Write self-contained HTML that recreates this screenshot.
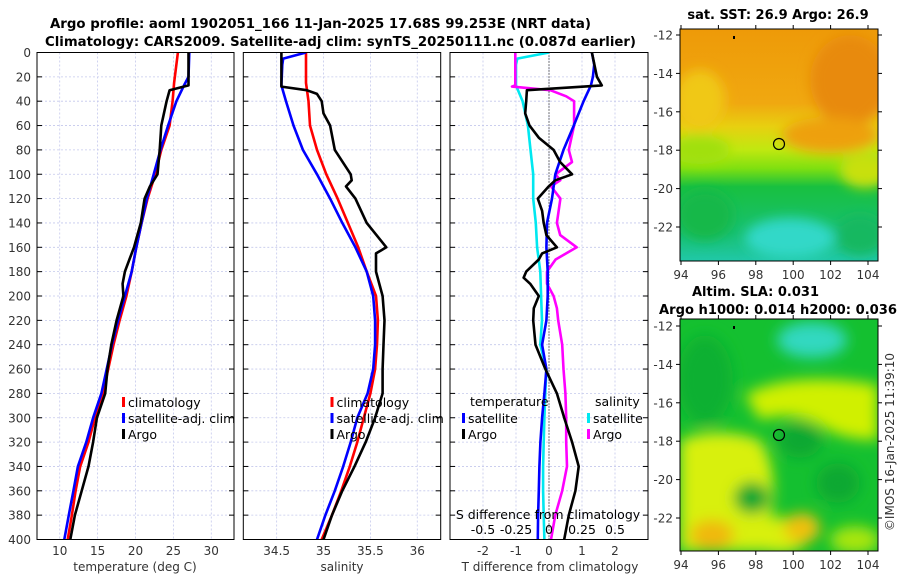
<!DOCTYPE html>
<html><head><meta charset="utf-8">
<style>
html,body{margin:0;padding:0;background:#fff;}
svg{display:block;font-family:"DejaVu Sans","Liberation Sans",sans-serif;}
.tk{font-size:12px;fill:#333;}
.ttl{font-size:13px;font-weight:bold;fill:#000;}
.lg{font-size:12.5px;fill:#000;}
</style></head>
<body>
<svg id="fig" width="900" height="580" viewBox="0 0 900 580" xmlns="http://www.w3.org/2000/svg">
<defs>
<filter id="blur1" x="-20%" y="-20%" width="140%" height="140%"><feGaussianBlur stdDeviation="6"/></filter>
<filter id="blur2" x="-20%" y="-20%" width="140%" height="140%"><feGaussianBlur stdDeviation="7"/></filter>
<clipPath id="cp1"><rect x="37" y="52.5" width="197" height="487"/></clipPath>
<clipPath id="cp2"><rect x="243.3" y="52.5" width="197.4" height="487"/></clipPath>
<clipPath id="cp3"><rect x="450" y="52.5" width="198" height="487"/></clipPath>
<clipPath id="cm1"><rect x="680" y="29" width="198" height="232"/></clipPath>
<clipPath id="cm2"><rect x="680" y="319" width="198" height="232"/></clipPath>
<linearGradient id="g1" x1="0" y1="0" x2="0" y2="1">
<stop offset="0" stop-color="#ee9a08"/><stop offset="0.32" stop-color="#f0a810"/>
<stop offset="0.42" stop-color="#e8d010"/><stop offset="0.52" stop-color="#c0e810"/>
<stop offset="0.6" stop-color="#80e010"/><stop offset="0.68" stop-color="#18c040"/><stop offset="0.88" stop-color="#18c070"/><stop offset="1" stop-color="#20c8a8"/>
</linearGradient>
</defs>
<text class="ttl" x="50" y="28" textLength="541" lengthAdjust="spacingAndGlyphs">Argo profile: aoml 1902051_166 11-Jan-2025 17.68S 99.253E (NRT data)</text>
<text class="ttl" x="45" y="46" textLength="591" lengthAdjust="spacingAndGlyphs">Climatology: CARS2009. Satellite-adj clim: synTS_20250111.nc (0.087d earlier)</text>
<g id="p1"></g>
<g id="p2"></g>
<g id="p3"></g>
<g id="m1">
 <g clip-path="url(#cm1)">
  <rect x="680" y="29" width="198" height="232" fill="url(#g1)"/>
  <g filter="url(#blur1)">
   <ellipse cx="700" cy="100" rx="25" ry="30" fill="#f0c818"/>
   <ellipse cx="850" cy="80" rx="40" ry="45" fill="#e88a08"/>
   <ellipse cx="830" cy="135" rx="48" ry="18" fill="#eea010"/>
   <ellipse cx="700" cy="150" rx="30" ry="14" fill="#a0e010"/>
   <ellipse cx="865" cy="170" rx="25" ry="18" fill="#c8e010"/>
   <ellipse cx="705" cy="215" rx="28" ry="25" fill="#14b848"/>
   <ellipse cx="790" cy="238" rx="45" ry="20" fill="#30d8c8"/>
   <ellipse cx="860" cy="235" rx="25" ry="20" fill="#18b860"/>
  </g>
 </g>
 <rect x="680" y="29" width="198" height="232" fill="none" stroke="#000" stroke-width="1"/>
 <circle cx="779" cy="144" r="5.5" fill="none" stroke="#000" stroke-width="1.2"/>
 <rect x="733" y="36" width="2" height="3" fill="#000"/>
 <text class="ttl" x="778" y="19" text-anchor="middle">sat. SST: 26.9 Argo: 26.9</text>
</g>
<g id="m2">
 <g clip-path="url(#cm2)">
  <rect x="680" y="319" width="198" height="232" fill="#14c030"/>
  <g filter="url(#blur2)">
   <ellipse cx="705" cy="380" rx="28" ry="45" fill="#08b030"/>
   <ellipse cx="812" cy="340" rx="35" ry="18" fill="#30d8c0"/>
   <path d="M745,395 Q790,370 878,385 L878,440 Q840,440 820,425 Q790,410 760,420 Z" fill="#d0f000"/>
   <path d="M680,440 Q720,425 760,440 Q780,470 770,520 L770,551 L680,551 Z" fill="#d8f010"/>
   <ellipse cx="780" cy="535" rx="30" ry="18" fill="#d8f010"/>
   <ellipse cx="712" cy="535" rx="22" ry="15" fill="#f0b810"/>
   <ellipse cx="802" cy="528" rx="18" ry="15" fill="#f0c010"/>
   <ellipse cx="752" cy="498" rx="18" ry="16" fill="#08a830"/>
   <ellipse cx="800" cy="440" rx="22" ry="18" fill="#08a830"/>
   <ellipse cx="838" cy="483" rx="22" ry="20" fill="#08a830"/>
   <ellipse cx="855" cy="540" rx="25" ry="14" fill="#a8e610"/>
  </g>
 </g>
 <rect x="680" y="319" width="198" height="232" fill="none" stroke="#000" stroke-width="1"/>
 <circle cx="779" cy="435" r="5.5" fill="none" stroke="#000" stroke-width="1.2"/>
 <rect x="733" y="326" width="2" height="3" fill="#000"/>
 <text class="ttl" x="692" y="296">Altim. SLA: 0.031</text>
 <text class="ttl" x="659" y="314" textLength="238" lengthAdjust="spacingAndGlyphs">Argo h1000: 0.014 h2000: 0.036</text>
</g>
<text class="tk" transform="translate(894,442) rotate(-90)" text-anchor="middle">©IMOS 16-Jan-2025 11:39:10</text>
</svg>
<script>
// ---- data (depth in dbar) ----
const yTicks = [0,20,40,60,80,100,120,140,160,180,200,220,240,260,280,300,320,340,360,380,400];
const tTicks = [10,15,20,25,30];
const sTicks = [34.5,35,35.5,36];
const dTicks = [-2,-1,0,1,2];
const dsTicks = [-0.5,-0.25,0,0.25,0.5];
const lonTicks = [94,96,98,100,102,104];
const latTicks = [-12,-14,-16,-18,-20,-22];

const climDepth = [0,25,40,60,80,100,120,140,160,180,200,220,240,260,280,300,320,340,360,380,400];
const climTemp  = [25.6,25.1,24.9,24.5,23.4,22.6,21.6,20.8,20.1,19.5,18.8,17.9,17.1,16.4,15.7,14.65,13.8,12.7,12.1,11.6,11.05];
const satTempDepth = [0,20,27,40,60,80,100,120,140,160,180,200,220,240,260,280,300,320,340,360,380,400];
const satTemp = [27.1,27.0,26.4,25.4,24.3,23.3,22.4,21.5,20.8,20.1,19.5,18.6,17.7,16.9,16.2,15.5,14.4,13.5,12.4,11.8,11.2,10.6];
const argoTempDepth = [0,27,31,40,60,80,100,110,120,140,160,170,180,190,200,220,240,260,280,300,320,340,360,380,400];
const argoTemp = [27.0,27.0,24.5,24.1,23.4,23.2,22.9,21.9,21.2,20.7,19.8,19.2,18.6,18.3,18.4,17.5,16.8,16.3,16.0,14.9,14.4,13.8,12.9,12.0,11.4];

const climSal = [34.813,34.813,34.84,34.856,34.93,35.03,35.15,35.26,35.37,35.46,35.56,35.58,35.57,35.55,35.5,35.43,35.36,35.28,35.19,35.09,34.98];
const satSalDepth = [0,5,10,27,40,60,80,100,120,140,160,180,200,220,240,260,280,300,320,340,360,380,400];
const satSal = [34.813,34.57,34.56,34.55,34.6,34.68,34.78,34.93,35.07,35.2,35.34,35.46,35.53,35.55,35.55,35.53,35.47,35.36,35.29,35.21,35.12,35.02,34.93];
const argoSalDepth = [0,28,31,34,40,50,60,80,100,105,110,120,140,160,165,180,200,220,240,260,280,300,320,340,360,380,400];
const argoSal = [34.55,34.55,34.82,34.93,34.98,35.0,35.07,35.12,35.29,35.3,35.24,35.34,35.46,35.67,35.56,35.56,35.63,35.65,35.64,35.63,35.63,35.55,35.45,35.33,35.2,35.09,35.0];

const dSatTDepth = [0,10,20,27,40,60,80,100,120,140,160,180,200,220,240,260,280,300,320,340,360,380,400];
const dSatT = [1.3,1.37,1.33,1.27,1.05,0.75,0.44,0.19,0.09,-0.06,-0.08,-0.04,-0.04,-0.08,-0.21,-0.08,-0.14,-0.21,-0.26,-0.29,-0.31,-0.33,-0.34];
const dArgoTDepth = [0,20,27,31,40,50,60,70,80,90,100,105,110,120,130,140,150,160,165,170,180,185,190,200,210,220,240,260,280,300,320,340,360,380,400];
const dArgoT = [1.3,1.45,1.6,-0.67,-0.69,-0.72,-0.59,-0.31,0.14,0.34,0.7,0.19,-0.01,-0.34,-0.21,-0.16,-0.08,0.24,-0.21,-0.31,-0.69,-0.77,-0.57,-0.31,-0.46,-0.48,-0.41,-0.11,0.24,0.46,0.7,0.9,0.8,0.6,0.46];
const dSatSDepth = [0,5,10,27,40,60,80,100,120,140,160,180,200,220,240,260,280,300,320,340,360,380,400];
const dSatS = [0,-0.24,-0.25,-0.25,-0.2,-0.16,-0.14,-0.12,-0.12,-0.1,-0.09,-0.066,-0.06,-0.053,-0.066,-0.02,-0.028,-0.035,-0.04,-0.045,-0.045,-0.04,-0.035];
const dArgoSDepth = [0,27,28,31,36,40,50,60,70,80,90,100,105,110,120,140,150,160,170,180,190,200,210,220,240,260,280,300,320,340,360,380,400];
const dArgoS = [-0.255,-0.255,-0.28,0.01,0.13,0.19,0.19,0.19,0.17,0.15,0.174,0.05,0.085,0.015,0.086,0.06,0.085,0.21,0.05,-0.015,-0.015,0.035,0.06,0.07,0.1,0.11,0.124,0.13,0.13,0.136,0.1,0.048,0.015];

// ---- scales ----
const Y0 = 52.5, YH = 487;
const yS = d => Y0 + d / 400 * YH;
const xT = t => 37 + (t - 7) / 26 * 197;
const xS = s => 243.3 + (s - 34.144) / 2.106 * 197.4;
const xD = v => 450 + (v + 3) / 6 * 198;
const xDS = v => xD(v * 4);
const NS = 'http://www.w3.org/2000/svg';
function mk(tag, attrs, parent) {
  const e = document.createElementNS(NS, tag);
  for (const k in attrs) e.setAttribute(k, attrs[k]);
  parent.appendChild(e);
  return e;
}
function txt(parent, x, y, s, anchor, cls) {
  const t = mk('text', {x: x, y: y, 'text-anchor': anchor || 'middle', class: cls || 'tk'}, parent);
  t.textContent = s;
  return t;
}

function panel(g, x0, x1, clip, xTicks, xf, xlabels) {
  xTicks.forEach(v => {
    const l = mk('line', {x1: xf(v), x2: xf(v), y1: Y0, y2: Y0 + YH, stroke: '#c4c8ec', 'stroke-width': 0.8, 'stroke-dasharray': '2,2'}, g);
    
    
  });
  yTicks.forEach(d => {
    const l = mk('line', {x1: x0, x2: x1, y1: yS(d), y2: yS(d), stroke: '#c4c8ec', 'stroke-width': 0.8, 'stroke-dasharray': '2,2'}, g);
    
    
    mk('line', {x1: x0, x2: x0 + 5, y1: yS(d), y2: yS(d), stroke: '#000', 'stroke-width': 1}, g);
    mk('line', {x1: x1 - 5, x2: x1, y1: yS(d), y2: yS(d), stroke: '#000', 'stroke-width': 1}, g);
  });
  if (xlabels) xTicks.forEach(v => {
    const t = txt(g, xf(v), 555, String(v));
    
    
  });
}
function series(g, clip, depths, vals, xf, color, name) {
  const pts = depths.map((d, i) => xf(vals[i]).toFixed(1) + ',' + yS(d).toFixed(1)).join(' ');
  const p = mk('polyline', {points: pts, fill: 'none', stroke: color, 'stroke-width': 2.6, 'stroke-linejoin': 'round', 'clip-path': clip}, g);
  
  
}
function legendEntry(g, x, y, color, label, name) {
  const e = mk('g', {}, g);
  
  
  mk('rect', {x: x, y: y - 9, width: 3, height: 10, fill: color}, e);
  txt(e, x + 6, y + 1, label, 'start', 'lg');
}
function frame(g, x0, x1) {
  mk('rect', {x: x0, y: Y0, width: x1 - x0, height: YH, fill: 'none', stroke: '#000', 'stroke-width': 1}, g);
}

// Panel 1
const p1 = document.getElementById('p1');
panel(p1, 37, 234, 'url(#cp1)', tTicks, xT, true);
yTicks.forEach(d => {
  const t = txt(p1, 31, yS(d) + 4.5, String(d), 'end');
  
  
});
series(p1, 'url(#cp1)', climDepth, climTemp, xT, '#ff0000', 'temp-climatology-line');
series(p1, 'url(#cp1)', satTempDepth, satTemp, xT, '#0000ff', 'temp-satellite-line');
series(p1, 'url(#cp1)', argoTempDepth, argoTemp, xT, '#000000', 'temp-argo-line');
const lg1 = mk('g', {'clip-path': 'url(#cp1)'}, p1);
legendEntry(lg1, 122, 406, '#ff0000', 'climatology', 'legend-climatology');
legendEntry(lg1, 122, 422, '#0000ff', 'satellite-adj. clim', 'legend-satellite-adj');
legendEntry(lg1, 122, 438, '#000000', 'Argo', 'legend-argo');
frame(p1, 37, 234);
const xl1 = txt(p1, 135, 571, 'temperature (deg C)');


// Panel 2
const p2 = document.getElementById('p2');
panel(p2, 243.3, 440.7, 'url(#cp2)', sTicks, xS, true);
series(p2, 'url(#cp2)', climDepth, climSal, xS, '#ff0000', 'sal-climatology-line');
series(p2, 'url(#cp2)', satSalDepth, satSal, xS, '#0000ff', 'sal-satellite-line');
series(p2, 'url(#cp2)', argoSalDepth, argoSal, xS, '#000000', 'sal-argo-line');
legendEntry(p2, 330.5, 406, '#ff0000', 'climatology', 'legend-climatology');
legendEntry(p2, 330.5, 422, '#0000ff', 'satellite-adj. clim', 'legend-satellite-adj');
legendEntry(p2, 330.5, 438, '#000000', 'Argo', 'legend-argo');
frame(p2, 243.3, 440.7);
const xl2 = txt(p2, 342, 571, 'salinity');


// Panel 3
const p3 = document.getElementById('p3');
panel(p3, 450, 648, 'url(#cp3)', dTicks, xD, true);
mk('line', {x1: xD(0), x2: xD(0), y1: Y0, y2: Y0 + YH, stroke: '#000', 'stroke-width': 1, 'stroke-dasharray': '1,2'}, p3);
series(p3, 'url(#cp3)', dSatSDepth, dSatS, xDS, '#00e8f0', 'sal-diff-satellite-line');
series(p3, 'url(#cp3)', dArgoSDepth, dArgoS, xDS, '#ff00ff', 'sal-diff-argo-line');
series(p3, 'url(#cp3)', dSatTDepth, dSatT, xD, '#0000ff', 'temp-diff-satellite-line');
series(p3, 'url(#cp3)', dArgoTDepth, dArgoT, xD, '#000000', 'temp-diff-argo-line');
txt(p3, 470, 406, 'temperature', 'start', 'lg');
legendEntry(p3, 462, 422, '#0000ff', 'satellite', 'legend-temp-satellite');
legendEntry(p3, 462, 438, '#000000', 'Argo', 'legend-temp-argo');
txt(p3, 595, 406, 'salinity', 'start', 'lg');
legendEntry(p3, 587, 422, '#00e8f0', 'satellite', 'legend-sal-satellite');
legendEntry(p3, 587, 438, '#ff00ff', 'Argo', 'legend-sal-argo');
const sl = txt(p3, 548, 519, 'S difference from climatology', 'middle', 'lg');

dsTicks.forEach(v => {
  const t = txt(p3, xDS(v), 534, String(v), 'middle', 'lg');
  
  
});
frame(p3, 450, 648);
const xl3 = txt(p3, 550, 571, 'T difference from climatology');


// Maps axes
const lonX = lon => 681 + (lon - 94) * 18.7;
function mapAxes(gid, top, latY0) {
  const g = document.getElementById(gid);
  lonTicks.forEach(lon => {
    mk('line', {x1: lonX(lon), x2: lonX(lon), y1: top + 232, y2: top + 236, stroke: '#000'}, g);
    mk('line', {x1: lonX(lon), x2: lonX(lon), y1: top - 4, y2: top, stroke: '#000'}, g);
    const t = txt(g, lonX(lon), top + 250, String(lon));
    
    
  });
  latTicks.forEach(lat => {
    const y = latY0 + (-12 - lat) * 19.2;
    mk('line', {x1: 676, x2: 680, y1: y, y2: y, stroke: '#000'}, g);
    mk('line', {x1: 878, x2: 882, y1: y, y2: y, stroke: '#000'}, g);
    const t = txt(g, 673, y + 4.5, String(lat), 'end');
    
    
  });
}
mapAxes('m1', 29, 35);
mapAxes('m2', 319, 326);
</script>
</body></html>
